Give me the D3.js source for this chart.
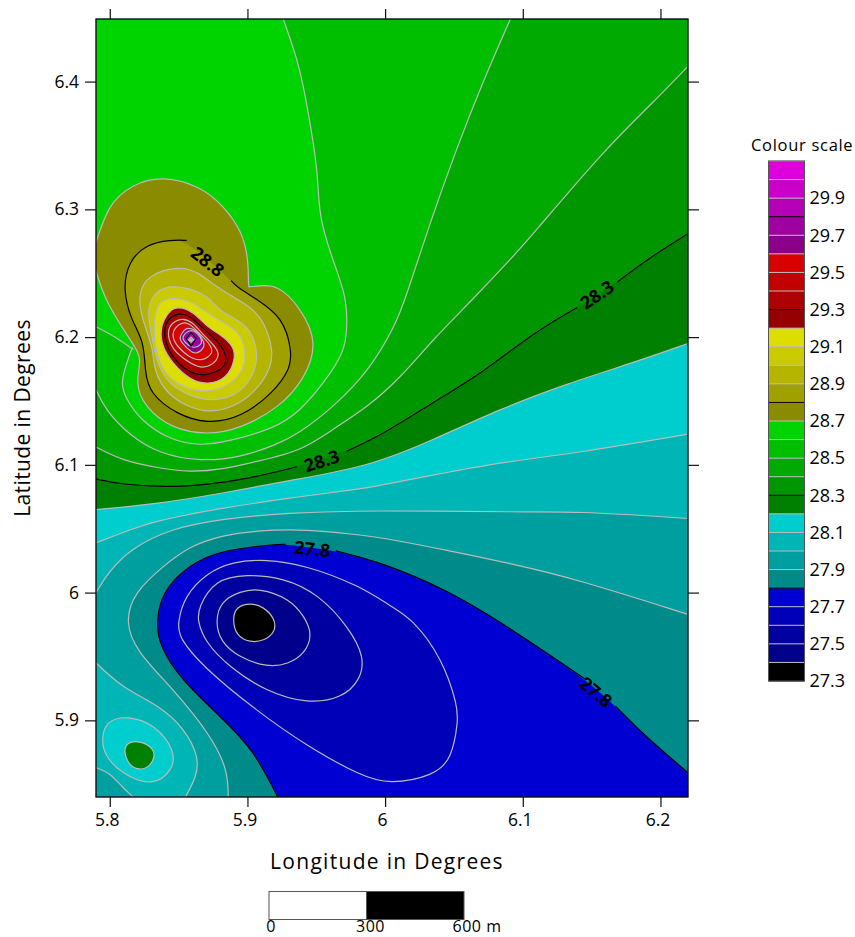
<!DOCTYPE html>
<html>
<head>
<meta charset="utf-8">
<script src="https://cdn.jsdelivr.net/npm/d3@7"></script>
<style>
  body { margin: 0; background: #fff; }
  text { font-family: "Open Sans", sans-serif; fill: #000; }
</style>
</head>
<body>
<script>
// axis ranges and ticks (degrees)
const lonDomain = [5.79, 6.22];
const latDomain = [5.84, 6.449];
const lonTicks = [5.8, 5.9, 6, 6.1, 6.2];
const latTicks = [5.9, 6, 6.1, 6.2, 6.3, 6.4];

// colour key: one colour per 0.1 band, starting at 27.3
const bandStart = 27.3;
const bandColours = [
  '#000000', '#00008b', '#0000a0', '#0000b8', '#0000d2',
  '#008b8b', '#009f9f', '#00b5b5', '#00cdcd',
  '#008000', '#009600', '#00aa00', '#00bf00', '#00d400',
  '#8b8b00', '#a0a000', '#b5b500', '#caca00', '#dddd00',
  '#960000', '#ad0000', '#c20000', '#d80000',
  '#8b008b', '#a000a0', '#b500b5', '#c800c8', '#dd00dd'
];
const keyLabels = [27.3, 27.5, 27.7, 27.9, 28.1, 28.3, 28.5, 28.7, 28.9, 29.1, 29.3, 29.5, 29.7, 29.9];
const blackLevels = [27.3, 27.8, 28.3, 28.8, 29.3, 29.8];

// contour lines as [lon, lat], null marks a gap for a label
// a point given three times is a sharp corner in the line
const c286 = [[5.790,6.208],[5.804,6.200],[5.816,6.191],[5.816,6.191],[5.816,6.191],[5.812,6.178],[5.809,6.164],[5.813,6.151],[5.824,6.135],[5.844,6.121],[5.866,6.116],[5.890,6.120],[5.917,6.129],[5.938,6.143],[5.960,6.172],[5.970,6.192],[5.972,6.214],[5.970,6.235],[5.962,6.261],[5.953,6.294],[5.951,6.326],[5.947,6.357],[5.942,6.388],[5.936,6.417],[5.926,6.449]];
const c285 = [[5.790,6.159],[5.798,6.143],[5.815,6.124],[5.837,6.110],[5.866,6.104],[5.895,6.107],[5.920,6.116],[5.938,6.126],[5.962,6.146],[5.987,6.174],[6.006,6.208],[6.016,6.235],[6.033,6.290],[6.052,6.347],[6.071,6.399],[6.091,6.449]];
const c284 = [[5.790,6.114],[5.810,6.104],[5.835,6.098],[5.858,6.095],[5.882,6.097],[5.907,6.103],[5.938,6.112],[5.962,6.128],[5.987,6.146],[6.011,6.169],[6.035,6.198],[6.063,6.229],[6.091,6.261],[6.110,6.284],[6.158,6.344],[6.194,6.383],[6.220,6.412]];
const c283 = [[5.790,6.089],[5.810,6.085],[5.842,6.083],[5.871,6.085],[5.902,6.090],[5.936,6.099],null,[5.971,6.111],[5.999,6.125],[6.035,6.149],[6.071,6.173],[6.107,6.202],[6.139,6.223],null,[6.168,6.243],[6.191,6.261],[6.220,6.281]];
const c282 = [[5.790,6.065],[5.835,6.070],[5.882,6.078],[5.931,6.088],[5.987,6.100],[6.035,6.120],[6.083,6.143],[6.132,6.163],[6.180,6.180],[6.220,6.195]];
const c281 = [[5.790,6.039],[5.810,6.047],[5.835,6.056],[5.882,6.066],[5.931,6.074],[5.980,6.081],[5.996,6.084],[6.045,6.094],[6.093,6.103],[6.142,6.110],[6.220,6.124]];
const c280 = [[5.790,6.000],[5.800,6.016],[5.817,6.034],[5.846,6.049],[5.882,6.057],[5.931,6.062],[5.996,6.064],[6.093,6.063],[6.142,6.063],[6.220,6.058]];
const c280Lower = [[5.790,5.945],[5.810,5.926],[5.835,5.911],[5.853,5.893],[5.863,5.872],[5.862,5.856],[5.855,5.840]];
const c280Corner = [[5.790,5.863],[5.800,5.858],[5.809,5.848],[5.817,5.840]];
const c281Blob = [[5.795,5.885],[5.799,5.898],[5.813,5.902],[5.832,5.895],[5.845,5.877],[5.844,5.862],[5.830,5.851],[5.810,5.859],[5.798,5.872]];
const c282Blob = [[5.811,5.875],[5.8135,5.882],[5.822,5.883],[5.8305,5.878],[5.832,5.871],[5.828,5.864],[5.822,5.862],[5.815,5.865]];
const c279 = [[5.886,5.840],[5.884,5.862],[5.871,5.890],[5.846,5.924],[5.822,5.953],[5.8135,5.977],[5.820,6.000],[5.839,6.020],[5.858,6.035],[5.882,6.044],[5.907,6.048],[5.943,6.049],[5.980,6.045],[5.996,6.043],[6.045,6.033],[6.093,6.022],[6.142,6.009],[6.220,5.983]];
const c278 = [[5.922,5.840],[5.904,5.875],[5.882,5.901],[5.853,5.932],[5.838,5.958],[5.835,5.977],[5.840,6.000],[5.858,6.020],[5.882,6.032],[5.917,6.037],[5.931,6.037],null,[5.964,6.032],[5.996,6.023],[6.045,6.001],[6.093,5.970],[6.142,5.934],null,[6.167,5.911],[6.190,5.887],[6.220,5.859]];
const c277 = [[6.004,5.852],[5.980,5.859],[5.943,5.881],[5.907,5.908],[5.871,5.940],[5.853,5.963],[5.8505,5.977],[5.856,5.997],[5.871,6.014],[5.890,6.023],[5.914,6.025],[5.943,6.020],[5.980,6.005],[6.004,5.989],[6.020,5.977],[6.040,5.948],[6.051,5.914],[6.052,5.898],[6.047,5.872],[6.033,5.858]];
const c276 = [[5.866,5.989],[5.878,6.008],[5.900,6.013],[5.926,6.010],[5.951,5.997],[5.972,5.973],[5.983,5.950],[5.980,5.932],[5.967,5.919],[5.943,5.915],[5.914,5.924],[5.888,5.942],[5.871,5.961],[5.865,5.977]];
const c275 = [[5.878,5.977],[5.882,5.992],[5.895,6.000],[5.909,6.002],[5.929,5.9945],[5.9405,5.981],[5.9456,5.967],[5.9405,5.953],[5.929,5.945],[5.914,5.943],[5.895,5.950],[5.882,5.962]];
const c274 = [[5.890,5.979],[5.893,5.988],[5.902,5.991],[5.9115,5.988],[5.919,5.979],[5.919,5.9695],[5.9115,5.963],[5.902,5.962],[5.893,5.967]];
const c287 = [[5.791,6.276],[5.800,6.302],[5.817,6.318],[5.839,6.324],[5.864,6.317],[5.882,6.302],[5.895,6.282],[5.900,6.261],[5.9006,6.243],[5.9013,6.2394],[5.9013,6.2394],[5.9013,6.2394],[5.9064,6.2394],[5.922,6.239],[5.938,6.221],[5.948,6.196],[5.9405,6.169],[5.922,6.146],[5.895,6.130],[5.871,6.125],[5.846,6.130],[5.827,6.146],[5.820,6.164],[5.822,6.182],[5.816,6.196],[5.798,6.227],[5.790,6.253],[5.787,6.2645]];
const c288 = [[5.885,6.247],[5.893,6.239],[5.907,6.229],[5.924,6.214],[5.931,6.190],[5.929,6.174],[5.917,6.1565],[5.895,6.139],[5.871,6.134],[5.849,6.141],[5.831,6.1565],[5.826,6.174],[5.824,6.196],[5.816,6.214],[5.811,6.237],[5.815,6.258],[5.827,6.271],[5.844,6.275],[5.858,6.272]];
const c289 = [[5.849,6.254],[5.829,6.247],[5.822,6.232],[5.824,6.214],[5.831,6.192],[5.833,6.174],[5.8425,6.1565],[5.856,6.147],[5.873,6.142],[5.895,6.149],[5.9115,6.167],[5.918,6.188],[5.909,6.216],[5.893,6.229],[5.878,6.239],[5.864,6.250]];
const c290 = [[5.846,6.2394],[5.8345,6.235],[5.828,6.221],[5.831,6.200],[5.835,6.180],[5.844,6.164],[5.858,6.155],[5.875,6.151],[5.893,6.1565],[5.904,6.172],[5.9064,6.188],[5.900,6.208],[5.882,6.219],[5.875,6.227],[5.864,6.2355]];
const c291 = [[5.846,6.230],[5.837,6.227],[5.833,6.216],[5.833,6.196],[5.838,6.177],[5.849,6.164],[5.866,6.158],[5.882,6.161],[5.895,6.172],[5.898,6.188],[5.893,6.2035],[5.878,6.214],[5.868,6.221],[5.858,6.228]];
const c292 = [[5.849,6.223],[5.842,6.2175],[5.8374,6.206],[5.839,6.1925],[5.846,6.180],[5.858,6.168],[5.871,6.164],[5.884,6.169],[5.890,6.182],[5.889,6.1925],[5.880,6.202],[5.871,6.208],[5.8607,6.219]];
const c293 = [[5.853,6.218],[5.844,6.215],[5.840,6.206],[5.842,6.1925],[5.849,6.181],[5.860,6.172],[5.871,6.171],[5.882,6.176],[5.884,6.185],[5.880,6.194],[5.871,6.2035],[5.861,6.2135]];
const c294 = [[5.853,6.214],[5.846,6.211],[5.8425,6.2035],[5.8454,6.1925],[5.853,6.184],[5.864,6.177],[5.873,6.178],[5.879,6.186],[5.875,6.194],[5.866,6.204],[5.860,6.211]];
const c295 = [[5.853,6.211],[5.8476,6.207],[5.846,6.200],[5.8498,6.1925],[5.857,6.1855],[5.866,6.182],[5.8745,6.188],[5.871,6.196],[5.864,6.204],[5.858,6.210]];
const c296 = [[5.857,6.207],[5.853,6.2035],[5.851,6.198],[5.856,6.192],[5.862,6.187],[5.868,6.192],[5.868,6.196],[5.864,6.2035]];
const c297 = [[5.858,6.205],[5.853,6.200],[5.855,6.196],[5.860,6.192],[5.866,6.194],[5.866,6.1995],[5.862,6.204]];
const c298 = [[5.859,6.2035],[5.8556,6.199],[5.859,6.193],[5.8628,6.199]];
const c299 = [[5.859,6.200],[5.857,6.198],[5.859,6.196],[5.861,6.198]];
const c300 = [[5.859,6.1988],[5.858,6.198],[5.859,6.1972],[5.860,6.198]];

// labels sitting in the contour gaps: text, lon, lat, rotation
const contourLabels = [
  ['28.8', 5.871, 6.259, 38],
  ['28.3', 5.954, 6.103, -18],
  ['28.3', 6.154, 6.233, -34],
  ['27.8', 5.947, 6.034, 6],
  ['27.8', 6.153, 5.922, 40]
];

// scale bar
const barMetres = [0, 300, 600];
const barColours = ['#ffffff', '#000000'];
const barText = ['0', '300', '600 m'];
const barTextOffsets = [2, 4, 13];

const svg = d3.select('body').append('svg')
  .attr('width', 855)
  .attr('height', 937);

const xScale = d3.scaleLinear().domain(lonDomain).range([96, 688]);
const yScale = d3.scaleLinear().domain(latDomain).range([797, 19]);
const keyScale = d3.scaleLinear().domain([bandStart, bandStart + bandColours.length / 10]).range([681, 161]);
const barScale = d3.scaleLinear().domain([0, 600]).range([269, 464]);

function bandColour(level) {
  return bandColours[Math.round((level - bandStart) * 10)];
}

function isBlack(level) {
  return blackLevels.some((d) => Math.abs(d - level) < 0.001);
}

const BR = [lonDomain[1], latDomain[0]];
const BL = [lonDomain[0], latDomain[0]];
const TR = [lonDomain[1], latDomain[1]];

// painted in order, later ones on top. band = colour of the area the line encloses
const layers = [
  { pts: c286, level: 28.6, band: 28.5, via: [TR, BR, BL] },
  { pts: c285, level: 28.5, band: 28.4, via: [TR, BR, BL] },
  { pts: c284, level: 28.4, band: 28.3, via: [BR, BL] },
  { pts: c283, level: 28.3, band: 28.2, via: [BR, BL] },
  { pts: c282, level: 28.2, band: 28.1, via: [BR, BL] },
  { pts: c281, level: 28.1, band: 28.0, via: [BR, BL] },
  { pts: c280, level: 28.0, band: 27.9, via: [BR, BL] },
  { pts: c280Lower, level: 28.0, band: 28.0, via: [BL] },
  { pts: c280Corner, level: 28.0, band: 27.9, via: [BL] },
  { pts: c281Blob, level: 28.1, band: 28.1, closed: true },
  { pts: c282Blob, level: 28.2, band: 28.2, closed: true },
  { pts: c279, level: 27.9, band: 27.8, via: [BR] },
  { pts: c278, level: 27.8, band: 27.7, via: [BR] },
  { pts: c277, level: 27.7, band: 27.6, closed: true },
  { pts: c276, level: 27.6, band: 27.5, closed: true },
  { pts: c275, level: 27.5, band: 27.4, closed: true },
  { pts: c274, level: 27.4, band: 27.3, closed: true },
  { pts: c287, level: 28.7, band: 28.7, closed: true },
  { pts: c288, level: 28.8, band: 28.8, closed: true, gap: true },
  { pts: c289, level: 28.9, band: 28.9, closed: true },
  { pts: c290, level: 29.0, band: 29.0, closed: true },
  { pts: c291, level: 29.1, band: 29.1, closed: true },
  { pts: c292, level: 29.2, band: 29.2, closed: true },
  { pts: c293, level: 29.3, band: 29.3, closed: true },
  { pts: c294, level: 29.4, band: 29.4, closed: true },
  { pts: c295, level: 29.5, band: 29.5, closed: true },
  { pts: c296, level: 29.6, band: 29.6, closed: true },
  { pts: c297, level: 29.7, band: 29.7, closed: true },
  { pts: c298, level: 29.8, band: 29.8, closed: true, straight: true },
  { pts: c299, level: 29.9, band: 29.9, closed: true, straight: true },
  { pts: c300, level: 30.0, band: 30.0, closed: true, straight: true }
];

drawMap();
drawAxes();
drawContourLabels();
drawColourKey();
drawScaleBar();
drawTitles();

function tighten(pts, closed) {
  const n = pts.length;
  return pts.map((p, i) => {
    if (!closed && (i === 0 || i === n - 1)) return p;
    const a = pts[(i - 1 + n) % n];
    const b = pts[(i + 1) % n];
    return [p[0] + (2 * p[0] - a[0] - b[0]) / 6, p[1] + (2 * p[1] - a[1] - b[1]) / 6];
  });
}

function drawMap() {
  svg.append('clipPath').attr('id', 'plot-clip')
    .append('rect')
    .attr('x', xScale(lonDomain[0]))
    .attr('y', yScale(latDomain[1]))
    .attr('width', xScale(lonDomain[1]) - xScale(lonDomain[0]))
    .attr('height', yScale(latDomain[0]) - yScale(latDomain[1]));

  const map = svg.append('g').attr('clip-path', 'url(#plot-clip)');

  // whole frame starts as the 28.6 band
  map.append('rect')
    .attr('x', xScale(lonDomain[0]))
    .attr('y', yScale(latDomain[1]))
    .attr('width', xScale(lonDomain[1]) - xScale(lonDomain[0]))
    .attr('height', yScale(latDomain[0]) - yScale(latDomain[1]))
    .attr('fill', bandColour(28.6));

  const lineOf = (curve) => d3.line().x((d) => xScale(d[0])).y((d) => yScale(d[1])).curve(curve);
  const openLine = lineOf(d3.curveBasis);
  const closedLine = lineOf(d3.curveBasisClosed);
  const straightLine = lineOf(d3.curveLinearClosed);

  layers.forEach((layer) => {
    const solid = layer.pts.filter((d) => d);
    const ctrl = tighten(solid, layer.closed);
    let area;
    if (layer.straight) {
      area = straightLine(solid);
    } else if (layer.closed) {
      area = closedLine(ctrl);
    } else {
      area = openLine(ctrl) + layer.via.map((d) => 'L' + xScale(d[0]) + ',' + yScale(d[1])).join('') + 'Z';
    }
    map.append('path').attr('d', area).attr('fill', bandColour(layer.band));

    // stroke is split at the label gaps
    let outline = area;
    if (!layer.closed) {
      let k = 0;
      let segment = [];
      const segments = [segment];
      layer.pts.forEach((p) => {
        if (p) {
          segment.push(ctrl[k++]);
        } else {
          segment = [];
          segments.push(segment);
        }
      });
      outline = segments.map((s) => openLine(s)).join('');
    } else if (layer.gap) {
      outline = openLine(ctrl);
    }

    map.append('path')
      .attr('d', outline)
      .attr('fill', 'none')
      .attr('stroke', isBlack(layer.level) ? '#000' : '#bbbbbb')
      .attr('stroke-width', 1.2);
  });

  // plot frame
  svg.append('rect')
    .attr('x', xScale(lonDomain[0]))
    .attr('y', yScale(latDomain[1]))
    .attr('width', xScale(lonDomain[1]) - xScale(lonDomain[0]))
    .attr('height', yScale(latDomain[0]) - yScale(latDomain[1]))
    .attr('fill', 'none')
    .attr('stroke', '#111')
    .attr('stroke-width', 1.4);
}

function styleAxis(g) {
  g.select('.domain').remove();
  g.selectAll('line').attr('stroke', '#111').attr('stroke-width', 1.2);
  g.selectAll('text').style('font-size', '17.5px').attr('fill', '#000');
}

function drawAxes() {
  const plain = (d) => String(d);

  svg.append('g').attr('transform', 'translate(0,' + yScale(latDomain[0]) + ')')
    .call(d3.axisBottom(xScale).tickValues(lonTicks).tickFormat(plain).tickSize(10).tickPadding(7))
    .call(styleAxis)
    .selectAll('text').attr('dx', -3);
  svg.append('g').attr('transform', 'translate(0,' + yScale(latDomain[1]) + ')')
    .call(d3.axisTop(xScale).tickValues(lonTicks).tickFormat('').tickSize(10))
    .call(styleAxis);
  svg.append('g').attr('transform', 'translate(' + xScale(lonDomain[0]) + ',0)')
    .call(d3.axisLeft(yScale).tickValues(latTicks).tickFormat(plain).tickSize(11).tickPadding(6))
    .call(styleAxis);
  svg.append('g').attr('transform', 'translate(' + xScale(lonDomain[1]) + ',0)')
    .call(d3.axisRight(yScale).tickValues(latTicks).tickFormat('').tickSize(11))
    .call(styleAxis);
}

function drawContourLabels() {
  svg.selectAll('.contour-label')
    .data(contourLabels)
    .enter()
    .append('text')
      .attr('class', 'contour-label')
      .attr('transform', (d) => 'translate(' + xScale(d[1]) + ',' + yScale(d[2]) + ')rotate(' + d[3] + ')')
      .attr('text-anchor', 'middle')
      .attr('dy', '0.35em')
      .style('font-size', '18px')
      .style('font-weight', 700)
      .text((d) => d[0]);
}

function drawColourKey() {
  const key = svg.append('g');
  const keyX = 768.5;
  const keyW = 36;
  const step = 0.1;

  key.selectAll('rect')
    .data(bandColours)
    .enter()
    .append('rect')
      .attr('x', keyX)
      .attr('width', keyW)
      .attr('y', (d, i) => keyScale(bandStart + (i + 1) * step))
      .attr('height', keyScale(bandStart) - keyScale(bandStart + step))
      .attr('fill', (d) => d);

  key.selectAll('line')
    .data(d3.range(0, bandColours.length + 1))
    .enter()
    .append('line')
      .attr('x1', keyX)
      .attr('x2', keyX + keyW)
      .attr('y1', (i) => keyScale(bandStart + i * step))
      .attr('y2', (i) => keyScale(bandStart + i * step))
      .attr('stroke', (i) => isBlack(bandStart + i * step) ? '#000' : '#bbbbbb')
      .attr('stroke-width', 1);

  key.append('rect')
    .attr('x', keyX)
    .attr('y', keyScale.range()[1])
    .attr('width', keyW)
    .attr('height', keyScale.range()[0] - keyScale.range()[1])
    .attr('fill', 'none')
    .attr('stroke', '#555')
    .attr('stroke-width', 1);

  key.selectAll('.key-label')
    .data(keyLabels)
    .enter()
    .append('text')
      .attr('class', 'key-label')
      .attr('x', keyX + keyW + 5)
      .attr('y', (d) => keyScale(d))
      .attr('dy', '0.35em')
      .style('font-size', '18px')
      .text((d) => d.toFixed(1));

  key.append('text')
    .attr('x', 751)
    .attr('y', 151)
    .style('font-size', '16.5px')
    .style('letter-spacing', '0.7px')
    .text('Colour scale');
}

function drawScaleBar() {
  svg.selectAll('.bar-part')
    .data(barColours)
    .enter()
    .append('rect')
      .attr('class', 'bar-part')
      .attr('x', (d, i) => barScale(barMetres[i]))
      .attr('width', (d, i) => barScale(barMetres[i + 1]) - barScale(barMetres[i]))
      .attr('y', 891.5)
      .attr('height', 28)
      .attr('fill', (d) => d)
      .attr('stroke', '#555')
      .attr('stroke-width', 1);

  svg.selectAll('.bar-label')
    .data(barMetres)
    .enter()
    .append('text')
      .attr('class', 'bar-label')
      .attr('x', (d, i) => barScale(d) + barTextOffsets[i])
      .attr('y', 932)
      .attr('text-anchor', 'middle')
      .style('font-size', '16px')
      .style('letter-spacing', '0.5px')
      .text((d, i) => barText[i]);
}

function drawTitles() {
  svg.append('text')
    .attr('x', 387)
    .attr('y', 869)
    .attr('text-anchor', 'middle')
    .style('font-size', '21px')
    .style('letter-spacing', '1.3px')
    .text('Longitude in Degrees');

  svg.append('text')
    .attr('transform', 'translate(30,418)rotate(-90)')
    .attr('text-anchor', 'middle')
    .style('font-size', '21px')
    .style('letter-spacing', '0.4px')
    .text('Latitude in Degrees');
}
</script>
</body>
</html>
